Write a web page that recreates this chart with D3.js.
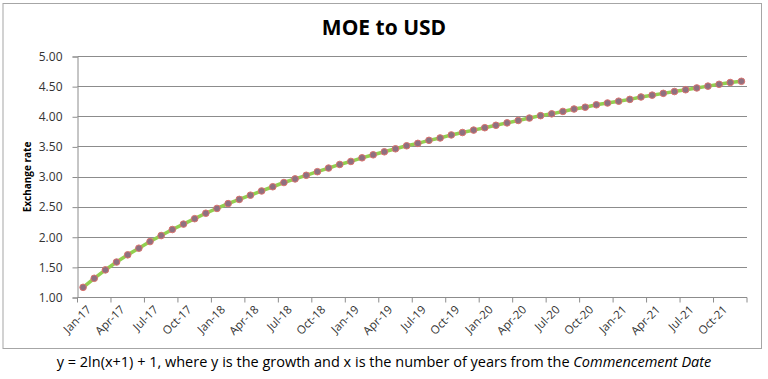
<!DOCTYPE html>
<html>
<head>
<meta charset="utf-8">
<script src="https://cdn.jsdelivr.net/npm/d3@7"></script>
<style>
  body { margin: 0; background: #fff; }
  svg text { font-family: "Open Sans", "Noto Sans", sans-serif; }
</style>
</head>
<body>
<div id="chart"></div>
<script>
const width = 768, height = 379;

const months = ["Jan-17","Feb-17","Mar-17","Apr-17","May-17","Jun-17","Jul-17","Aug-17","Sep-17","Oct-17","Nov-17","Dec-17",
  "Jan-18","Feb-18","Mar-18","Apr-18","May-18","Jun-18","Jul-18","Aug-18","Sep-18","Oct-18","Nov-18","Dec-18",
  "Jan-19","Feb-19","Mar-19","Apr-19","May-19","Jun-19","Jul-19","Aug-19","Sep-19","Oct-19","Nov-19","Dec-19",
  "Jan-20","Feb-20","Mar-20","Apr-20","May-20","Jun-20","Jul-20","Aug-20","Sep-20","Oct-20","Nov-20","Dec-20",
  "Jan-21","Feb-21","Mar-21","Apr-21","May-21","Jun-21","Jul-21","Aug-21","Sep-21","Oct-21","Nov-21","Dec-21"];

const rates = [1.16,1.31,1.45,1.58,1.70,1.81,1.92,2.02,2.12,2.21,2.30,2.39,
  2.47,2.55,2.62,2.69,2.76,2.83,2.90,2.96,3.02,3.08,3.14,3.20,
  3.25,3.31,3.36,3.41,3.46,3.51,3.55,3.60,3.64,3.69,3.73,3.77,
  3.81,3.85,3.89,3.93,3.97,4.01,4.04,4.08,4.12,4.15,4.19,4.22,
  4.25,4.28,4.32,4.35,4.38,4.41,4.44,4.47,4.50,4.53,4.56,4.58];

const yTicks = [1.00,1.50,2.00,2.50,3.00,3.50,4.00,4.50,5.00];

const margin = {left: 77.5, right: 21, top: 56, bottom: 82};

const svg = d3.select("#chart").append("svg")
  .attr("width", width)
  .attr("height", height);

// chart frame
svg.append("rect")
  .attr("x", 3).attr("y", 3.5)
  .attr("width", 758.5).attr("height", 345)
  .attr("fill", "#fff")
  .attr("stroke", "#a6a6a6");

const x = d3.scaleBand()
  .domain(months)
  .range([margin.left, width - margin.right]);

const y = d3.scaleLinear()
  .domain([1, 5])
  .range([height - margin.bottom, margin.top]);

// gridlines
svg.append("g")
  .selectAll("line")
  .data(yTicks.slice(1))
  .enter().append("line")
    .attr("x1", margin.left)
    .attr("x2", width - margin.right)
    .attr("y1", d => Math.round(y(d)) + 0.5)
    .attr("y2", d => Math.round(y(d)) + 0.5)
    .attr("stroke", "#8c8c8c");

// y axis
const yAxis = svg.append("g")
  .attr("transform", `translate(${margin.left},0.5)`)
  .call(d3.axisLeft(y).tickValues(yTicks).tickFormat(d3.format(".2f")).tickSize(5).tickPadding(10));
yAxis.select(".domain").attr("stroke", "#8c8c8c");
yAxis.selectAll(".tick line").attr("stroke", "#8c8c8c");
yAxis.selectAll(".tick text")
  .attr("fill", "#333")
  .style("font-size", "12px");

// x axis: ticks every 3 months on category boundaries
const bottom = Math.round(y(1)) + 0.5;
const xg = svg.append("g");
xg.append("line")
  .attr("x1", margin.left).attr("x2", width - margin.right)
  .attr("y1", bottom).attr("y2", bottom)
  .attr("stroke", "#8c8c8c");
const bounds = d3.range(0, months.length + 1, 3);
xg.selectAll(".xt")
  .data(bounds)
  .enter().append("line")
    .attr("class", "xt")
    .attr("x1", i => i < months.length ? x(months[i]) : x.range()[1])
    .attr("x2", i => i < months.length ? x(months[i]) : x.range()[1])
    .attr("y1", bottom).attr("y2", bottom + 5)
    .attr("stroke", "#8c8c8c");

xg.selectAll(".xl")
  .data(months.filter((m, i) => i % 3 === 0))
  .enter().append("text")
    .attr("class", "xl")
    .attr("text-anchor", "end")
    .attr("transform", d => `translate(${x(d) + x.bandwidth() / 2 + 6},${bottom + 10}) rotate(-45)`)
    .attr("dy", "0.35em")
    .attr("fill", "#333")
    .style("font-size", "11.5px")
    .text(d => d);

// line and markers
const line = d3.line()
  .x((d, i) => x(months[i]) + x.bandwidth() / 2)
  .y(d => y(d));

svg.append("path")
  .datum(rates)
  .attr("d", line)
  .attr("fill", "none")
  .attr("stroke", "#92d050")
  .attr("stroke-width", 3.5);

svg.append("g")
  .selectAll("circle")
  .data(rates)
  .enter().append("circle")
    .attr("cx", (d, i) => x(months[i]) + x.bandwidth() / 2)
    .attr("cy", d => y(d))
    .attr("r", 3.3)
    .attr("fill", "#8e7080")
    .attr("stroke", "#d9736f")
    .attr("stroke-width", 1);

// title
svg.append("text")
  .attr("x", 384)
  .attr("y", 35)
  .attr("text-anchor", "middle")
  .style("font-size", "21px")
  .style("font-weight", "bold")
  .attr("fill", "#000")
  .text("MOE to USD");

// y label
svg.append("text")
  .attr("transform", "translate(31,177) rotate(-90)")
  .attr("text-anchor", "middle")
  .style("font-size", "10px")
  .style("font-weight", "bold")
  .attr("fill", "#000")
  .text("Exchange rate");

// caption
const cap = svg.append("text")
  .attr("x", 384)
  .attr("y", 367)
  .attr("text-anchor", "middle")
  .style("font-size", "14.5px")
  .attr("fill", "#000");
cap.append("tspan").text("y = 2ln(x+1) + 1, where y is the growth and x is the number of years from the ");
cap.append("tspan").style("font-style", "italic").text("Commencement Date");
</script>
</body>
</html>
